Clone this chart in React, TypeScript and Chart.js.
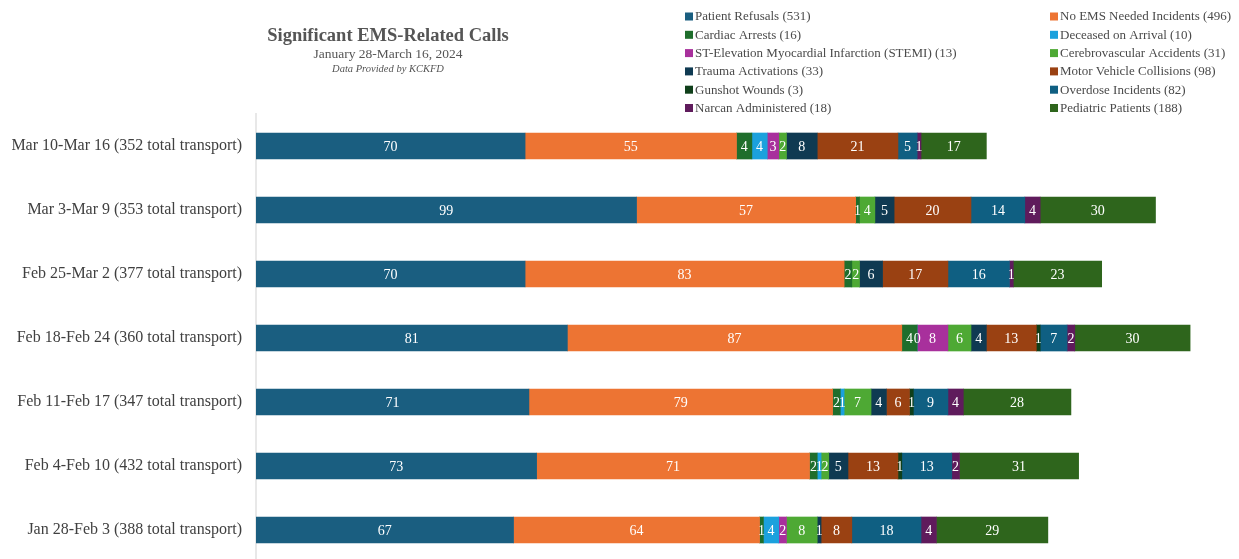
import React, { useEffect, useRef } from "react";
import { Chart, registerables } from "chart.js";

Chart.register(...registerables);

const categories = [
  "Mar 10-Mar 16 (352 total transport)",
  "Mar 3-Mar 9 (353 total transport)",
  "Feb 25-Mar 2 (377 total transport)",
  "Feb 18-Feb 24 (360 total transport)",
  "Feb 11-Feb 17 (347 total transport)",
  "Feb 4-Feb 10 (432 total transport)",
  "Jan 28-Feb 3 (388 total transport)",
];

const patientRefusals = [70, 99, 70, 81, 71, 73, 67];
const noEmsNeeded = [55, 57, 83, 87, 79, 71, 64];
const cardiacArrests = [4, 1, 2, 4, 2, 2, 1];
const deceasedOnArrival = [4, null, null, 0, 1, 1, 4];
const stemi = [3, null, null, 8, null, null, 2];
const cerebrovascular = [2, 4, 2, 6, 7, 2, 8];
const traumaActivations = [8, 5, 6, 4, 4, 5, 1];
const motorVehicle = [21, 20, 17, 13, 6, 13, 8];
const gunshotWounds = [null, null, null, 1, 1, 1, null];
const overdoseIncidents = [5, 14, 16, 7, 9, 13, 18];
const narcanAdministered = [1, 4, 1, 2, 4, 2, 4];
const pediatricPatients = [17, 30, 23, 30, 28, 31, 29];

const seriesNames = [
  "Patient Refusals",
  "No EMS Needed Incidents",
  "Cardiac Arrests",
  "Deceased on Arrival",
  "ST-Elevation Myocardial Infarction (STEMI)",
  "Cerebrovascular Accidents",
  "Trauma Activations",
  "Motor Vehicle Collisions",
  "Gunshot Wounds",
  "Overdose Incidents",
  "Narcan Administered",
  "Pediatric Patients",
];

const seriesValues = [
  patientRefusals,
  noEmsNeeded,
  cardiacArrests,
  deceasedOnArrival,
  stemi,
  cerebrovascular,
  traumaActivations,
  motorVehicle,
  gunshotWounds,
  overdoseIncidents,
  narcanAdministered,
  pediatricPatients,
];

const seriesColors = [
  "#1a5e80",
  "#ed7433",
  "#1f6e2c",
  "#1ba1dd",
  "#a8309c",
  "#4ea934",
  "#0f3a52",
  "#9a4112",
  "#0f3f1a",
  "#0f5f82",
  "#5f1b5c",
  "#2e651c",
];

const titleText = "Significant EMS-Related Calls";
const subtitleText = "January 28-March 16, 2024";
const sourceText = "Data Provided by KCKFD";

const SERIF = "'Liberation Serif', 'Times New Roman', serif";

const total = (arr: (number | null)[]) =>
  arr.reduce((s: number, v) => s + (v == null ? 0 : v), 0);

const headerPlugin = {
  id: "headerLegend",
  afterDraw(chart: any) {
    const ctx = chart.ctx;
    ctx.save();
    ctx.textAlign = "center";
    ctx.textBaseline = "middle";
    ctx.fillStyle = "#555555";
    ctx.font = `bold 18.5px ${SERIF}`;
    ctx.fillText(titleText, 380, 28.5);
    ctx.font = `13.5px ${SERIF}`;
    ctx.fillText(subtitleText, 380, 46);
    ctx.font = `italic 10.5px ${SERIF}`;
    ctx.fillText(sourceText, 380, 61);

    const colX = [677, 1042];
    const rowY0 = 8.5;
    const rowH = 18.3;
    ctx.textAlign = "left";
    ctx.font = `13px ${SERIF}`;
    chart.data.datasets.forEach((ds: any, i: number) => {
      const col = i % 2;
      const row = Math.floor(i / 2);
      const x = colX[col];
      const y = rowY0 + row * rowH;
      ctx.fillStyle = ds.backgroundColor;
      ctx.fillRect(x, y - 4, 8, 8);
      ctx.fillStyle = "#4a4a4a";
      ctx.fillText(`${ds.label} (${total(ds.data)})`, x + 10, y + 0.5);
    });
    ctx.restore();
  },
};

const barLabelPlugin = {
  id: "barLabels",
  afterDatasetsDraw(chart: any) {
    const ctx = chart.ctx;
    ctx.save();
    ctx.font = `14px ${SERIF}`;
    ctx.fillStyle = "#ffffff";
    ctx.textAlign = "center";
    ctx.textBaseline = "middle";
    chart.data.datasets.forEach((ds: any, di: number) => {
      const meta = chart.getDatasetMeta(di);
      meta.data.forEach((el: any, idx: number) => {
        const v = ds.data[idx];
        if (v == null) return;
        const p = el.getCenterPoint();
        ctx.fillText(String(v), p.x, p.y + 1);
      });
    });
    ctx.restore();
  },
};

export default function App() {
  const ref = useRef<HTMLCanvasElement | null>(null);

  useEffect(() => {
    if (!ref.current) return;
    const chart = new Chart(ref.current, {
      type: "bar",
      data: {
        labels: categories,
        datasets: seriesNames.map((name, i) => ({
          label: name,
          data: seriesValues[i] as any,
          backgroundColor: seriesColors[i],
          borderWidth: 0,
          barThickness: 26,
        })),
      },
      options: {
        indexAxis: "y",
        animation: false,
        responsive: false,
        maintainAspectRatio: false,
        layout: { padding: { top: 106, bottom: 2, left: 0, right: 14 } },
        plugins: {
          legend: { display: false },
          title: { display: false },
          tooltip: { enabled: false },
        },
        scales: {
          x: {
            stacked: true,
            display: false,
            min: 0,
            max: 250,
          },
          y: {
            stacked: true,
            afterFit(scale: any) {
              scale.width = 248;
              scale.paddingTop = 0;
              scale.paddingBottom = 0;
            },
            grid: {
              display: true,
              drawOnChartArea: false,
              drawTicks: false,
              color: "rgba(0,0,0,0)",
            },
            border: { display: true, color: "#e8e8e8", width: 2 },
            ticks: {
              padding: 14,
              color: "#404040",
              font: { family: SERIF, size: 16 },
            },
          },
        },
      },
      plugins: [headerPlugin, barLabelPlugin],
    });
    return () => chart.destroy();
  }, []);

  return (
    <div style={{ width: 1223, height: 551, overflow: "hidden" }}>
      <canvas ref={ref} width={1223} height={556} />
    </div>
  );
}
